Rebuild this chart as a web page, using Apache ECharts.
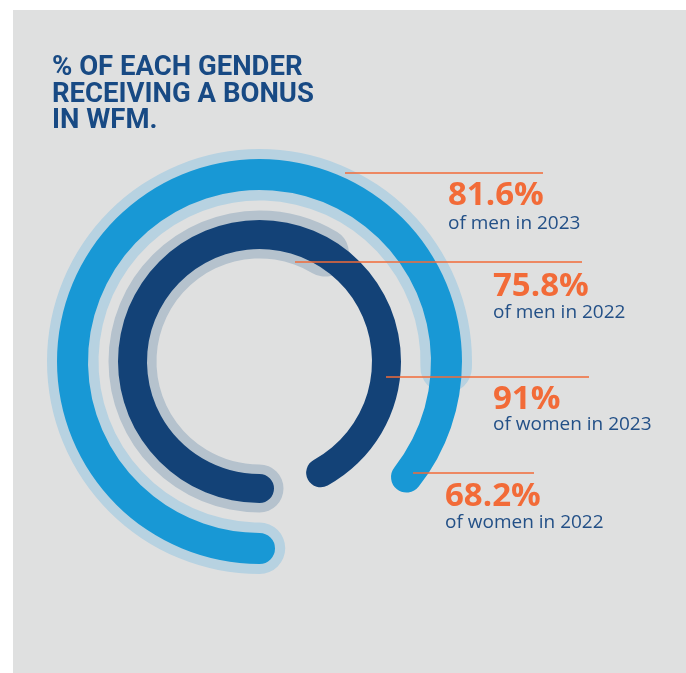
<!DOCTYPE html>
<html>
<head>
<meta charset="utf-8">
<script src="https://cdn.jsdelivr.net/npm/echarts@6/dist/echarts.min.js"></script>
<style>
html,body{margin:0;padding:0;background:#ffffff;}
#chart{width:686px;height:673px;}
</style>
</head>
<body>
<div id="chart"></div>
<script>
// ---- data ----
const titleLines = ['% OF EACH GENDER', 'RECEIVING A BONUS', 'IN WFM.'];
// arcs (share of a full turn, in %), as drawn
const ringNames   = ['men 2023', 'men 2022', 'women 2023', 'women 2022'];
const outerBar    = [85.6];   // bright blue arc (men 2023)
const outerTrack  = [75.5];   // light blue arc (men 2022)
const innerBar    = [92];     // navy arc (women 2023)
const innerTrack  = [58.6];   // grey arc (women 2022)
// callout texts
const calloutValues = ['81.6%', '75.8%', '91%', '68.2%'];
const calloutTexts  = ['of men in 2023', 'of men in 2022', 'of women in 2023', 'of women in 2022'];

// ---- layout / style ----
const C = [259.5, 361.5];
const ORANGE = '#f26b38';
const SUBTXT = '#235087';
const rings = [
  {r: [161, 212.5], data: outerTrack, color: '#b7d2e1', z: 1},
  {r: [171.5, 202.5], data: outerBar, color: '#1898d5', z: 2},
  {r: [103, 151], data: innerTrack, color: '#b5c2cd', z: 1},
  {r: [112.5, 141.5], data: innerBar, color: '#134277', z: 2}
];
const callouts = [
  {line: [345, 543, 173], x: 448, numY: 196, subY: 224},
  {line: [295, 582, 262], x: 493, numY: 287, subY: 313},
  {line: [386, 589, 377], x: 493, numY: 400, subY: 425},
  {line: [413, 534, 473], x: 445, numY: 497, subY: 523}
];

const graphics = [
  {type: 'rect', z: -10, silent: true, shape: {x: 13, y: 10, width: 673, height: 663}, style: {fill: '#dfe0e0'}}
];
callouts.forEach((c, i) => {
  graphics.push({type: 'line', z: 50, silent: true,
    shape: {x1: c.line[0], y1: c.line[2], x2: c.line[1], y2: c.line[2]},
    style: {stroke: ORANGE, lineWidth: 1.5}});
  graphics.push({type: 'text', z: 50, silent: true, x: c.x, y: c.numY,
    style: {text: calloutValues[i], fill: ORANGE, font: 'bold 33px "Open Sans"', verticalAlign: 'middle', align: 'left'}});
  graphics.push({type: 'text', z: 50, silent: true, x: c.x, y: c.subY,
    style: {text: calloutTexts[i], fill: SUBTXT, font: '19px "Open Sans"', verticalAlign: 'middle', align: 'left'}});
});

const chart = echarts.init(document.getElementById('chart'), null, {renderer: 'canvas'});
chart.setOption({
  animation: false,
  backgroundColor: '#ffffff',
  title: {
    text: titleLines.join('\n'),
    left: 52, top: 55, padding: 0,
    textStyle: {fontFamily: 'Roboto', fontWeight: 'bold', fontSize: 27.5, lineHeight: 26.5, color: '#184a84'}
  },
  polar: rings.map(r => ({center: C, radius: r.r})),
  angleAxis: rings.map((r, i) => ({polarIndex: i, type: 'value', min: 0, max: 100, startAngle: -90, clockwise: true, show: false})),
  radiusAxis: rings.map((r, i) => ({polarIndex: i, type: 'category', data: ['a'], show: false})),
  series: rings.map((r, i) => ({
    name: ringNames[i], type: 'bar', coordinateSystem: 'polar', polarIndex: i,
    data: r.data, roundCap: true, barWidth: '100%', barCategoryGap: '0%', z: r.z, silent: true,
    itemStyle: {color: r.color}
  })),
  graphic: graphics
});
</script>
</body>
</html>
